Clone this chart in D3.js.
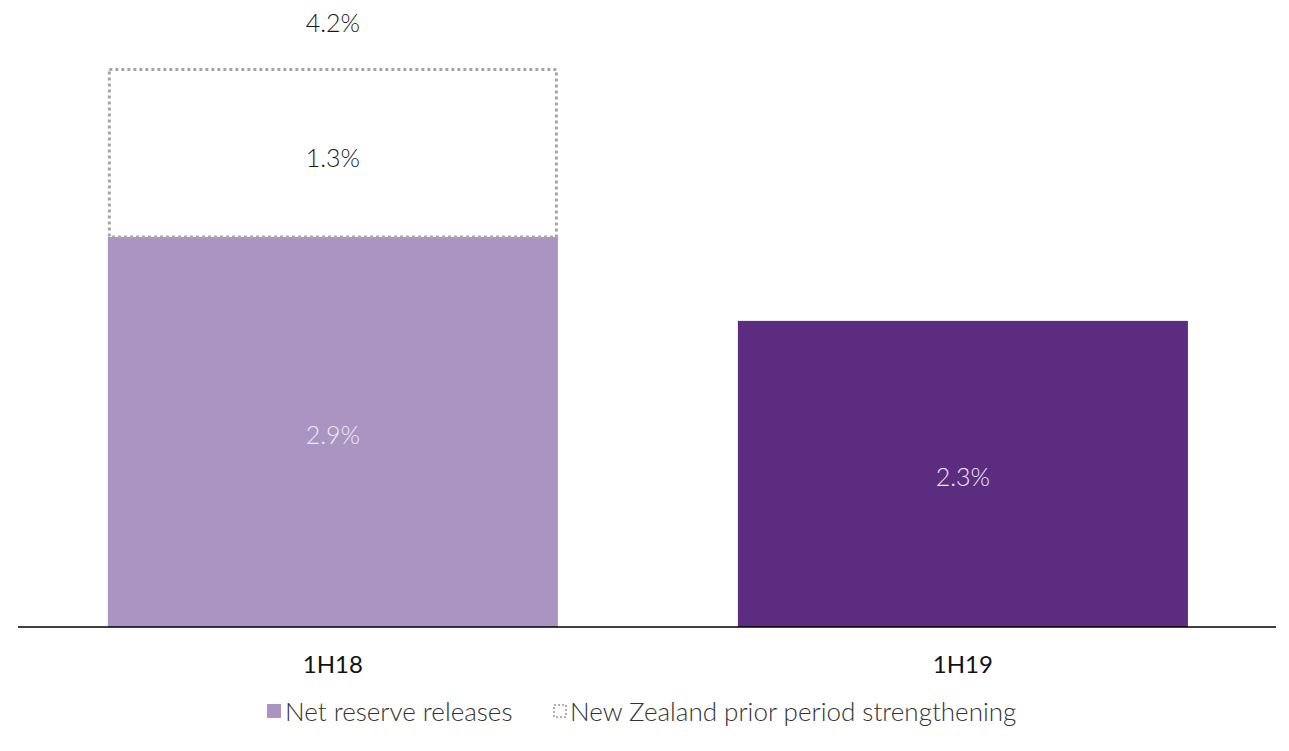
<!DOCTYPE html>
<html><head><meta charset="utf-8">
<script src="https://cdn.jsdelivr.net/npm/d3@7"></script>
<style>body{margin:0;background:#fff;} text{font-family:Lato,"Open Sans",sans-serif;}</style>
</head><body><svg id="c" width="1289" height="751"></svg>
<script>
const categories = ["1H18", "1H19"];
const netReserveReleases = [2.93, 2.30];
const nzStrengthening = [1.27, 0];
const seriesNames = ["Net reserve releases", "New Zealand prior period strengthening"];

const svg = d3.select("#c");
const x = d3.scaleBand().domain(categories).range([18, 1276]).paddingInner(2/7).paddingOuter(0.1412).align(0.505);
const y = d3.scaleLinear().domain([0, 4.2]).range([627, 68]);
const fmt = d3.format(".1f");
const barColors = ["#aa94c2", "#5b2c80"];
const labelSize = 25;

svg.selectAll("rect.base").data(categories).join("rect").attr("class", "base")
  .attr("x", d => x(d)).attr("width", x.bandwidth())
  .attr("y", (d,i) => y(netReserveReleases[i]))
  .attr("height", (d,i) => y(0) - y(netReserveReleases[i]))
  .attr("fill", (d,i) => barColors[i]);

categories.forEach((c, i) => {
  const cx = x(c) + x.bandwidth()/2;
  if (nzStrengthening[i] > 0) {
    const top = y(netReserveReleases[i] + nzStrengthening[i]);
    const bot = y(netReserveReleases[i]);
    svg.append("rect").attr("x", x(c) + 1.5).attr("width", x.bandwidth() - 3)
      .attr("y", top + 1.5).attr("height", bot - top - 1.5)
      .attr("fill", "none").attr("stroke", "#a6a6a6").attr("stroke-width", 3)
      .attr("stroke-dasharray", "3,3");
    svg.append("text").attr("x", cx).attr("y", (top+bot)/2 + 4)
      .attr("text-anchor", "middle").attr("dominant-baseline", "central")
      .attr("font-size", labelSize).attr("font-weight", 300).attr("fill", "#1a1a1a")
      .text(fmt(nzStrengthening[i]) + "%");
    svg.append("text").attr("x", cx).attr("y", top - 46)
      .attr("text-anchor", "middle").attr("dominant-baseline", "central")
      .attr("font-size", labelSize).attr("font-weight", 300).attr("fill", "#1a1a1a")
      .text(fmt(netReserveReleases[i] + nzStrengthening[i]) + "%");
  }
  svg.append("text").attr("x", cx)
    .attr("y", (y(netReserveReleases[i]) + y(0))/2 + 2)
    .attr("text-anchor", "middle").attr("dominant-baseline", "central")
    .attr("font-size", labelSize).attr("font-weight", 300).attr("fill", "#f0eaf5")
    .text(fmt(netReserveReleases[i]) + "%");
});

const ax = svg.append("g").attr("transform", "translate(0,627)")
  .call(d3.axisBottom(x).tickSize(0).tickPadding(29));
ax.select(".domain").attr("stroke", "#000").attr("stroke-width", 1.5).attr("d", "M18,0H1276");
ax.selectAll("text").attr("font-size", 24).attr("font-family", "Lato, sans-serif").attr("fill", "#111").attr("font-weight", 400);

const lg = svg.append("g");
lg.append("rect").attr("x", 267).attr("y", 704).attr("width", 14).attr("height", 14).attr("fill", barColors[0]);
lg.append("text").attr("x", 285).attr("y", 711).attr("dominant-baseline", "central")
  .attr("font-size", 26).attr("font-weight", 300).attr("fill", "#333").text(seriesNames[0]);
lg.append("rect").attr("x", 554).attr("y", 705).attr("width", 12).attr("height", 12)
  .attr("fill", "none").attr("stroke", "#b0b0b0").attr("stroke-width", 2).attr("stroke-dasharray", "2,2");
lg.append("text").attr("x", 570).attr("y", 711).attr("dominant-baseline", "central")
  .attr("font-size", 26).attr("font-weight", 300).attr("fill", "#333").text(seriesNames[1]);
</script></body></html>
